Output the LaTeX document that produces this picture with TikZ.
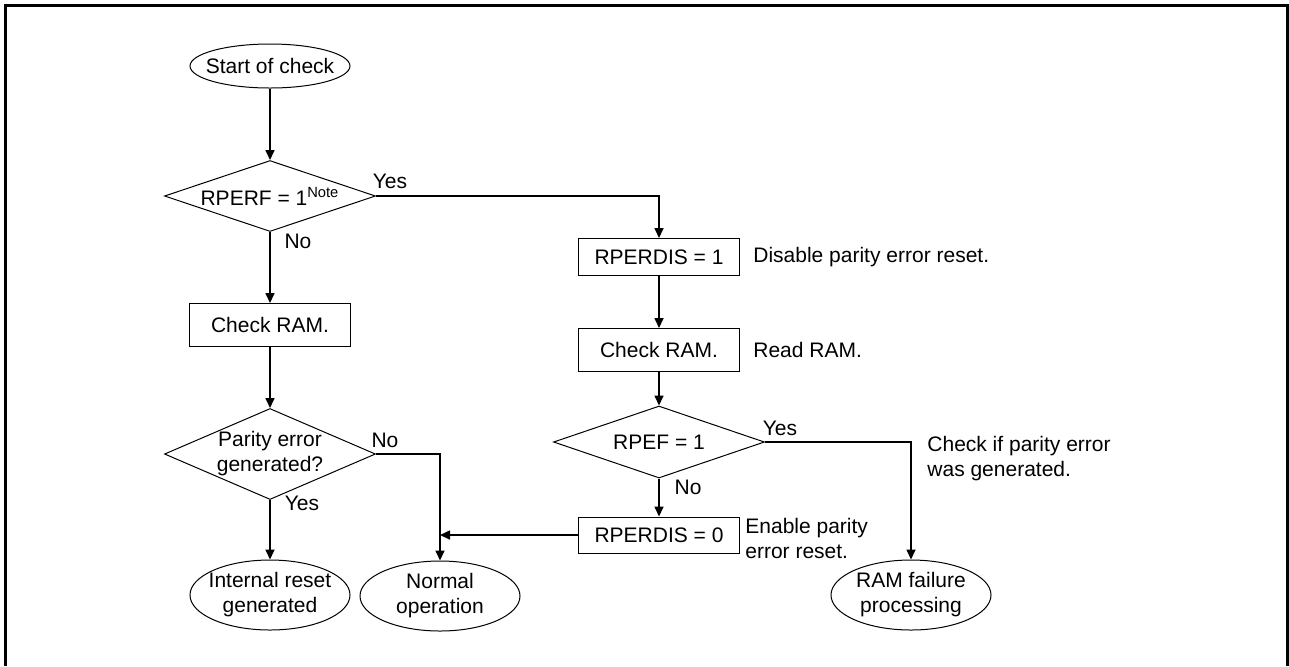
\documentclass[tikz,border=0pt]{standalone}
\usepackage{fontspec}
\setmainfont{Liberation Sans}
\usetikzlibrary{shapes.geometric,arrows.meta}
\tikzset{
	box/.style={draw,rectangle,inner sep=0pt,line width=0.5pt,minimum width=80.5pt},
	term/.style={draw,ellipse,inner sep=0pt,line width=0.5pt,minimum width=80pt,minimum height=35pt},
	test/.style={draw,diamond,inner sep=0pt,line width=0.5pt,minimum width=105.5pt},
	flow/.style={line width=0.8pt,-{Triangle[length=5pt,width=4.5pt]}},
	note/.style={anchor=west,align=left,inner sep=0pt},
	ans/.style={inner sep=0pt}
}
\begin{document}
\begin{tikzpicture}[x=0.5pt,y=-0.5pt,font=\fontsize{10.5}{12.5}\selectfont]
				\useasboundingbox (0,0) rectangle (1289,666);
				\draw[line width=1.5pt] (5,666)--(5,5)--(1287,5)--(1287,666);
				\node[term,minimum height=22pt,label={center:Start of check}] (start) at (270,66) {};
				\node[test,minimum height=35.5pt,label={center:RPERF = 1\textsuperscript{Note}}] (chk) at (270,196) {};
				\node[box,minimum height=21.5pt] (ramA) at (270,325) {Check RAM.};
				\node[test,minimum height=45.5pt,label={[align=center]center:Parity error\\generated?}] (par) at (270,454) {};
				\node[term,label={[align=center]center:Internal reset\\generated}] (rst) at (270,595) {};
				\node[term,label={[align=center]center:Normal\\operation}] (norm) at (440,596) {};
				\node[box,minimum height=18.5pt] (disA) at (659,257) {RPERDIS = 1};
				\node[box,minimum height=21.5pt] (ramB) at (659,350) {Check RAM.};
				\node[test,minimum height=36pt,label={center:RPEF = 1}] (rpef) at (659,442) {};
				\node[box,minimum height=18pt] (disB) at (659,535) {RPERDIS = 0};
				\node[term,label={[align=center]center:RAM failure\\processing}] (fail) at (911,595) {};
				\node[note] (txA) at (753,257) {Disable parity error reset.};
				\node[note] (txB) at (753,350) {Read RAM.};
				\node[note] (txC) at (927,459) {Check if parity error\\was generated.};
				\node[note] (txD) at (745,538) {Enable parity\\error reset.};
				\node[ans] (y1) at (390,181) {Yes};
				\node[ans] (n1) at (298,241) {No};
				\node[ans] (n2) at (385,440) {No};
				\node[ans] (y2) at (302,503) {Yes};
				\node[ans] (y3) at (780,428) {Yes};
				\node[ans] (n3) at (688,487) {No};
				\draw[flow] (start)--(chk);
				\draw[flow] (chk)--(ramA);
				\draw[flow] (ramA)--(par);
				\draw[flow] (par)--(rst);
				\draw[flow] (par.east) -| (norm.north);
				\draw[flow] (chk.east) -| (disA.north);
				\draw[flow] (disA)--(ramB);
				\draw[flow] (ramB)--(rpef);
				\draw[flow] (rpef)--(disB);
				\draw[flow] (rpef.east) -| (fail.north);
				\draw[flow] (disB.west)--(norm.north |- disB.west);
			\end{tikzpicture}
\end{document}
